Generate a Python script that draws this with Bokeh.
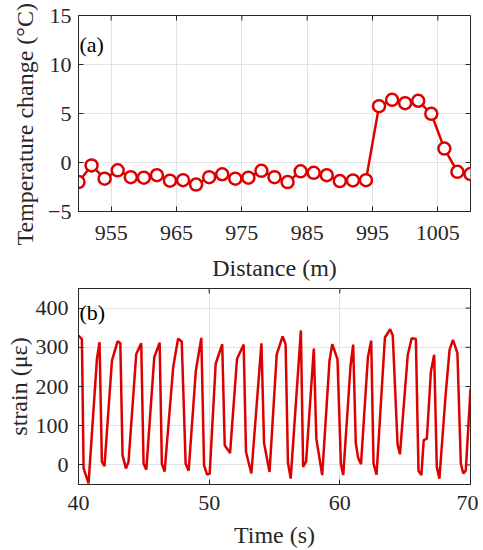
import math
from bokeh.plotting import figure
from bokeh.models import Range1d, FixedTicker, Label, Title
from bokeh.layouts import column
from bokeh.embed import file_html
from bokeh.resources import INLINE

# ---- data (a) ----
distance = [950, 952, 954, 956, 958, 960, 962, 964, 966, 968, 970, 972, 974, 976, 978, 980,
            982, 984, 986, 988, 990, 992, 994, 996, 998, 1000, 1002, 1004, 1006, 1008, 1010]
temp_change = [-2.0, -0.3, -1.65, -0.8, -1.5, -1.55, -1.3, -1.85, -1.8, -2.25, -1.5, -1.2,
               -1.65, -1.55, -0.85, -1.5, -2.0, -0.9, -1.05, -1.3, -1.9, -1.83, -1.8,
               5.75, 6.4, 6.05, 6.3, 4.97, 1.42, -0.95, -1.18]
dist_range = (950, 1010)
temp_range = (-5, 15)
dist_ticks = [955, 965, 975, 985, 995, 1005]
temp_ticks = [-5, 0, 5, 10, 15]

# ---- data (b) ----
time_s = [40.0, 40.26, 40.39, 40.77, 41.41, 41.61, 41.79, 41.99, 42.56, 42.99, 43.2, 43.37,
          43.63, 43.83, 44.42, 44.8, 44.98, 45.19, 45.8, 46.21, 46.38, 46.59, 47.25, 47.62,
          47.9, 48.2, 48.43, 48.98, 49.4, 49.61, 49.84, 50.04, 50.5, 51.0, 51.19, 51.6,
          52.13, 52.64, 52.82, 53.23, 54.0, 54.2, 54.62, 55.17, 55.62, 55.85, 56.03, 56.24,
          57.02, 57.19, 57.42, 58.01, 58.2, 58.65, 59.21, 59.42, 59.82, 60.08, 60.26, 60.82,
          61.02, 61.22, 61.4, 61.62, 62.15, 62.4, 62.58, 62.81, 63.45, 63.85, 64.05, 64.42,
          64.6, 65.2, 65.5, 65.82, 66.02, 66.24, 66.42, 66.66, 66.97, 67.22, 67.42, 67.62,
          68.08, 68.4, 68.66, 69.0, 69.26, 69.45, 69.64, 70.0]
strain = [330, 321, -9, -47, 270, 313, 8, -3, 266, 315, 311, 25,
          -9, 8, 283, 310, 3, -12, 275, 312, 3, -17, 250, 322,
          315, 3, -15, 240, 324, -1, -25, -22, 258, 308, 50, 30,
          270, 307, 33, -22, 310, 56, -18, 282, 328, 308, 6, -35,
          343, -5, 9, 297, 67, -26, 266, 308, 270, 3, -26, 253,
          307, 56, 18, 2, 275, 317, 3, -25, 325, 346, 330, 52,
          27, 281, 323, 321, -15, -26, 63, 67, 238, 281, -5, -35,
          172, 294, 319, 285, 3, -22, -14, 194]
time_range = (40, 70)
strain_range = (-50, 450)
time_ticks = [40, 50, 60, 70]
strain_ticks = [0, 100, 200, 300, 400]

RED = "#dd0000"
DARK = "#262626"
GRID = "#e3e3e3"
FONT = "Liberation Serif"


def style(p, xt, yt, xr, yr, xlabel, ylabel, xstand, xlstand, ystand, ylstand):
    p.xaxis.ticker = FixedTicker(ticks=xt)
    p.yaxis.ticker = FixedTicker(ticks=yt)
    p.xgrid.ticker = FixedTicker(ticks=xt)
    p.ygrid.ticker = FixedTicker(ticks=yt)
    p.xaxis.axis_label = xlabel
    if ylabel:
        p.yaxis.axis_label = ylabel
    for ax in [p.xaxis[0], p.yaxis[0]]:
        ax.major_tick_in = 5
        ax.major_tick_out = 0
        ax.minor_tick_line_color = None
        ax.axis_line_color = DARK
        ax.major_tick_line_color = DARK
        ax.major_label_text_font = FONT
        ax.major_label_text_font_size = "22px"
        ax.major_label_text_color = DARK
        ax.axis_label_text_font = FONT
        ax.axis_label_text_font_size = "24px"
        ax.axis_label_text_font_style = "normal"
        ax.axis_label_text_color = DARK
    p.xaxis.major_label_standoff = xstand
    p.xaxis.axis_label_standoff = xlstand
    p.yaxis.major_label_standoff = ystand
    p.yaxis.axis_label_standoff = ylstand
    for g in [p.xgrid[0], p.ygrid[0]]:
        g.grid_line_color = GRID
        g.grid_line_width = 1
    p.outline_line_color = DARK
    p.outline_line_alpha = 1.0
    p.background_fill_color = "white"
    p.border_fill_color = "white"
    # inward ticks on the top and right edges of the box
    p.scatter(xt, [yr[1]] * len(xt), marker="dash", size=10, angle=math.pi / 2,
              line_color=DARK, line_width=1)
    p.scatter([xr[1]] * len(yt), yt, marker="dash", size=10, angle=0,
              line_color=DARK, line_width=1)


# ---- figure (a) ----
p1 = figure(width=478, height=288, output_backend="svg", toolbar_location=None,
            x_range=Range1d(*dist_range), y_range=Range1d(*temp_range),
            min_border_left=78, min_border_right=8, min_border_top=15, min_border_bottom=77)
style(p1, dist_ticks, temp_ticks, dist_range, temp_range, "Distance (m)", None, 14, 12, 7, 10)
p1.line(distance, temp_change, line_color=RED, line_width=2.5)
p1.scatter(distance, temp_change, marker="circle", size=12, line_color=RED, line_width=2.5,
           fill_color="white")
p1.add_layout(Label(x=dist_range[0], y=12.0, text="(a)", text_font=FONT, text_font_size="22px",
                    text_color="black", text_baseline="middle", x_offset=1))
# y-axis title as a side title (longer than the frame, starting below it as in the original)
p1.add_layout(Title(text="Temperature change (°C)", align="left", offset=-34, standoff=16,
                    text_font=FONT, text_font_size="24px", text_font_style="normal",
                    text_color=DARK), "left")

# ---- figure (b) ----
p2 = figure(width=478, height=262, output_backend="svg", toolbar_location=None,
            x_range=Range1d(*time_range), y_range=Range1d(*strain_range),
            min_border_left=78, min_border_right=8, min_border_top=0, min_border_bottom=66)
style(p2, time_ticks, strain_ticks, time_range, strain_range, "Time (s)", "strain (με)",
      11, 9, 10, 1)
p2.line(time_s, strain, line_color=RED, line_width=2.5)
p2.add_layout(Label(x=time_range[0], y=390, text="(b)", text_font=FONT, text_font_size="22px",
                    text_color="black", text_baseline="middle", x_offset=1))

layout = column(p1, p2)
open("out.html", "w").write(file_html(layout, INLINE))
